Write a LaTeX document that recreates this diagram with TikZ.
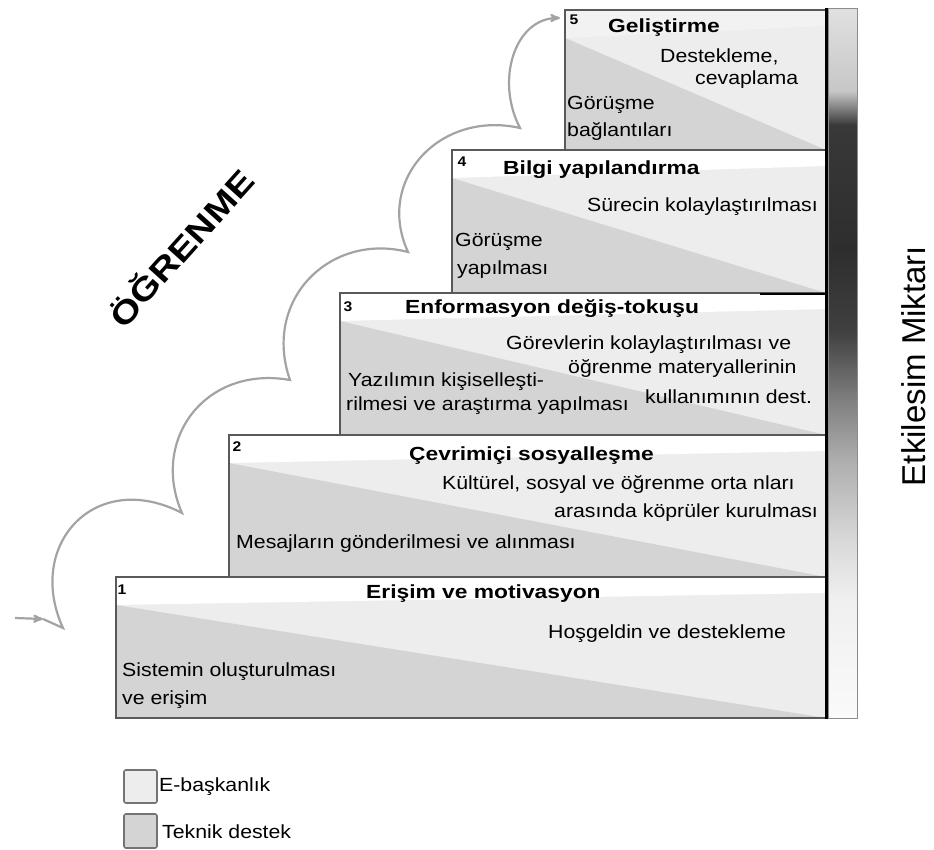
\documentclass[tikz,border=0pt]{standalone}
\usepackage{fontspec}
\setmainfont{Liberation Sans}[FakeStretch=1.12]
\newfontfamily\headfont{Liberation Sans}[FakeStretch=1.2]
\newfontfamily\sidefont{Liberation Sans}
\usetikzlibrary{arrows, positioning}

\definecolor{eboss}{gray}{0.93}
\definecolor{tech}{gray}{0.83}
\definecolor{framegray}{gray}{0.35}
\definecolor{wavegray}{gray}{0.64}

\pgfdeclareverticalshading{barshade}{100bp}{color(0bp)=(black!2); color(25bp)=(black!2); color(33.3bp)=(black!6); color(37.5bp)=(black!15); color(43.2bp)=(black!32); color(47.4bp)=(black!50); color(52.3bp)=(black!75); color(58bp)=(black!82); color(66.8bp)=(black!78); color(69.2bp)=(black!22); color(75bp)=(black!12); color(100bp)=(black!12)}

\begin{document}
\begin{tikzpicture}[x=1pt, y=-1pt, >=stealth',
		txt/.style={font=\fontsize{19}{22}\selectfont, inner sep=0pt},
		head/.style={font=\headfont\bfseries\fontsize{19}{22}\selectfont, inner sep=0pt},
		num/.style={font=\bfseries\fontsize{14}{16}\selectfont, inner sep=0pt},
		stepframe/.style={draw=framegray, line width=1.4pt},
		legendbox/.style={draw=black!55, line width=1.6pt, rounded corners=2pt},
		wave/.style={draw=wavegray, line width=2.2pt}]

	\useasboundingbox (0,0) rectangle (934,850);

	% step 1
	\fill[eboss] (116,577) rectangle (826,718);
	\fill[white] (116,577) -- (826,577) -- (826,593) -- (116,605) -- cycle;
	\fill[tech] (116,605) -- (826,718) -- (116,718) -- cycle;
	% step 2
	\fill[eboss] (229,435) rectangle (826,577);
	\fill[white] (229,435) -- (826,435) -- (826,451) -- (229,463) -- cycle;
	\fill[tech] (229,463) -- (826,577) -- (229,577) -- cycle;
	% step 3
	\fill[eboss] (340,293) rectangle (826,435);
	\fill[white] (340,293) -- (826,293) -- (826,309) -- (340,321) -- cycle;
	\fill[tech] (340,321) -- (826,435) -- (340,435) -- cycle;
	% step 4
	\fill[eboss] (452,150) rectangle (826,293);
	\fill[white] (452,150) -- (826,150) -- (826,166) -- (452,178) -- cycle;
	\fill[tech] (452,178) -- (826,293) -- (452,293) -- cycle;
	% step 5
	\fill[eboss] (565,10) rectangle (826,150);
	\fill[black!5] (565,10) -- (826,10) -- (826,26) -- (565,38) -- cycle;
	\fill[tech] (565,38) -- (826,150) -- (565,150) -- cycle;

	\draw[stepframe] (116,577) rectangle (826,718);
	\draw[stepframe] (229,435) rectangle (826,577);
	\draw[stepframe] (340,293) rectangle (826,435);
	\draw[stepframe] (452,150) rectangle (826,293);
	\draw[stepframe] (565,10) rectangle (826,150);
	\draw[line width=2.6pt] (760,294) -- (826,294);

	\shade[shading=barshade, draw=black!45, line width=1pt] (828,9) rectangle (857,718);
	\draw[line width=3pt] (826,8) -- (826,719);

	% texts of the steps
	\node[num] (n5) at (574,20) {5};
	\node[head, anchor=west] (h5) at (608,28) {Geliştirme};
	\node[txt, anchor=west] (e5a) at (660,57) {Destekleme,};
	\node[txt, anchor=west] (e5b) at (695,80) {cevaplama};
	\node[txt, anchor=west] (t5a) at (567,105) {Görüşme};
	\node[txt, anchor=west] (t5b) at (567,131) {bağlantıları};

	\node[num] (n4) at (462,162) {4};
	\node[head, anchor=west] (h4) at (503,170) {Bilgi yapılandırma};
	\node[txt, anchor=east] (e4a) at (818,207) {Sürecin kolaylaştırılması};
	\node[txt, anchor=west] (t4a) at (455,242) {Görüşme};
	\node[txt, anchor=west] (t4b) at (457,270) {yapılması};

	\node[num] (n3) at (348,307) {3};
	\node[head, anchor=west] (h3) at (405,309) {Enformasyon değiş-tokuşu};
	\node[txt, anchor=west] (e3a) at (506,345) {Görevlerin kolaylaştırılması ve};
	\node[txt, anchor=west] (e3b) at (568,368) {öğrenme materyallerinin};
	\node[txt, anchor=west] (e3c) at (645,397) {kullanımının dest.};
	\node[txt, anchor=west] (t3a) at (348,382) {Yazılımın kişiselleşti-};
	\node[txt, anchor=west] (t3b) at (346,406) {rilmesi ve araştırma yapılması};

	\node[num] (n2) at (237,447) {2};
	\node[head, anchor=west] (h2) at (409,456) {Çevrimiçi sosyalleşme};
	\node[txt, anchor=west] (e2a) at (442,484) {Kültürel, sosyal ve öğrenme orta nları};
	\node[txt, anchor=west] (e2b) at (554,513) {arasında köprüler kurulması};
	\node[txt, anchor=west] (t2a) at (236,544) {Mesajların gönderilmesi ve alınması};

	\node[num] (n1) at (122,590) {1};
	\node[head, anchor=west] (h1) at (366,594) {Erişim ve motivasyon};
	\node[txt, anchor=west] (e1a) at (548,634) {Hoşgeldin ve destekleme};
	\node[txt, anchor=west] (t1a) at (122,672) {Sistemin oluşturulması};
	\node[txt, anchor=west] (t1b) at (122,700) {ve erişim};

	% side labels
	\node[font=\headfont\bfseries\fontsize{32}{35}\selectfont, rotate=48] (learn) at (180,247) {ÖĞRENME};
	\node[font=\sidefont\fontsize{33}{36}\selectfont, rotate=90] (amount) at (914,366) {Etkilesim Miktarı};

	% legend
	\draw[legendbox, fill=eboss] (124,770) rectangle (157,803);
	\node[txt, anchor=west] (leg1) at (159,787) {E-başkanlık};
	\draw[legendbox, fill=tech] (124,814) rectangle (157,848);
	\node[txt, anchor=west] (leg2) at (162,832) {Teknik destek};

	% learning wave
	\coordinate (w0) at (15,618);
	\coordinate (w1) at (43,619);
	\coordinate (w2) at (63,628);
	\coordinate (c1) at (182,513);
	\coordinate (c2) at (290,380);
	\coordinate (c3) at (408,252);
	\coordinate (c4) at (520,128);
	\coordinate (w9) at (560,18);

	\draw[wave, ->] (w0) -- (w1);
	\draw[wave, ->] (w1) -- (w2)
		.. controls (25,545) and (95,468) .. (c1)
		.. controls (150,440) and (205,365) .. (c2)
		.. controls (262,300) and (330,232) .. (c3)
		.. controls (375,180) and (440,110) .. (c4)
		.. controls (495,80) and (515,18) .. (w9);

\end{tikzpicture}
\end{document}
